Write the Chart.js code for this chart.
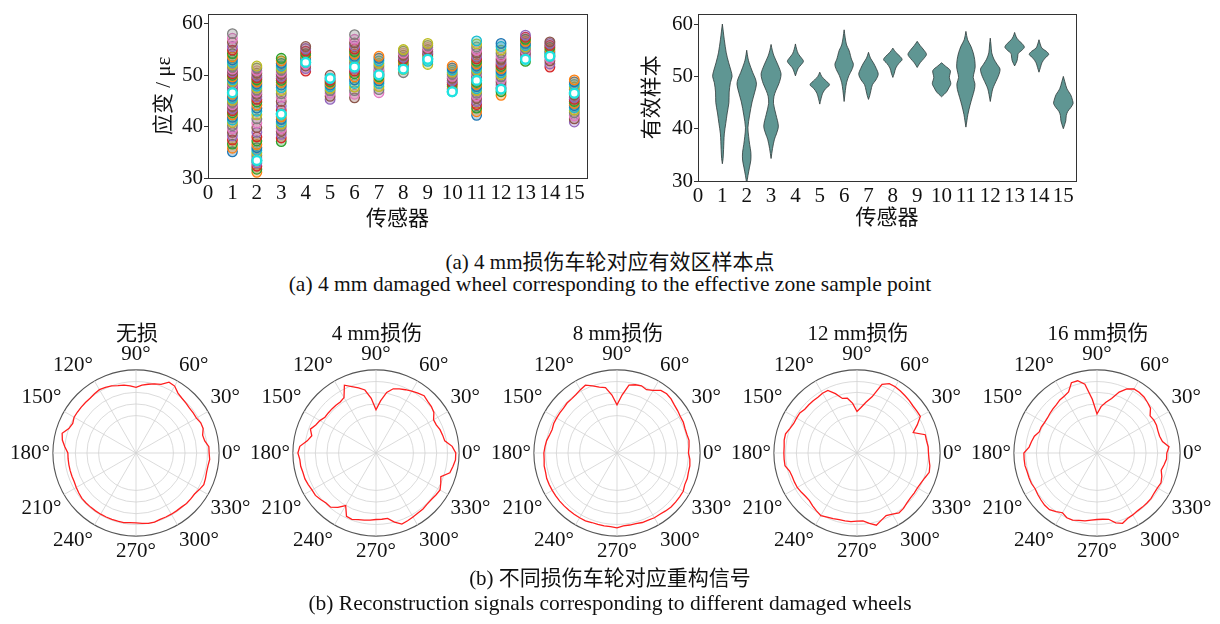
<!DOCTYPE html>
<html>
<head>
<meta charset="utf-8">
<script src="https://cdn.jsdelivr.net/npm/chart.js@4.4.1/dist/chart.umd.min.js"></script>
<style>
  body { margin: 0; background: #fff; }
  #page { position: relative; width: 1220px; height: 624px; overflow: hidden; background: #fff;
          font-family: 'Liberation Serif', 'Noto Sans CJK SC', serif; color: #111; }
  canvas { position: absolute; }
  .cap { position: absolute; left: 0; width: 1220px; text-align: center; font-size: 21px; line-height: 24px; white-space: nowrap; }
  .cap.en { font-size: 21.5px; }
  .ptitle { position: absolute; width: 200px; text-align: center; font-size: 21px; line-height: 24px; white-space: nowrap; }
</style>
</head>
<body>
<div id="page">
  <canvas id="strainChart" width="450" height="234" style="left:150px;top:0"></canvas>
  <canvas id="violinChart" width="460" height="233" style="left:630px;top:0"></canvas>
  <div class="cap" style="top:250px">(a) 4 mm损伤车轮对应有效区样本点</div>
  <div class="cap en" style="top:272px">(a) 4 mm damaged wheel corresponding to the effective zone sample point</div>

  <canvas id="polar0" width="252" height="240" style="left:4px;top:333px"></canvas>
  <canvas id="polar1" width="252" height="240" style="left:244px;top:333px"></canvas>
  <canvas id="polar2" width="252" height="240" style="left:485px;top:333px"></canvas>
  <canvas id="polar3" width="252" height="240" style="left:725px;top:333px"></canvas>
  <canvas id="polar4" width="252" height="240" style="left:965px;top:333px"></canvas>
  <div class="ptitle" style="left:37px;top:321px">无损</div>
  <div class="ptitle" style="left:277px;top:321px">4 mm损伤</div>
  <div class="ptitle" style="left:518px;top:321px">8 mm损伤</div>
  <div class="ptitle" style="left:758px;top:321px">12 mm损伤</div>
  <div class="ptitle" style="left:998px;top:321px">16 mm损伤</div>

  <div class="cap" style="top:566px">(b) 不同损伤车轮对应重构信号</div>
  <div class="cap en" style="top:591px">(b) Reconstruction signals corresponding to different damaged wheels</div>
</div>
<script>
// ---- (a) samples per sensor ----
const sensors = [1, 2, 3, 4, 5, 6, 7, 8, 9, 10, 11, 12, 13, 14, 15];
const xTickLabels = [0, 1, 2, 3, 4, 5, 6, 7, 8, 9, 10, 11, 12, 13, 14, 15];
const yTickLabels = [30, 40, 50, 60];

const samples1 = [35.1, 35.8, 36.6, 37.4, 38.2, 38.9, 39.6, 40.2, 40.8, 41.3, 41.8, 42.3, 42.7, 43.1, 43.5, 43.9, 44.3, 44.7, 45.1, 45.5, 45.9, 46.3, 46.7, 47.1, 47.5, 47.9, 48.2, 48.5, 48.8, 49.1, 49.4, 49.7, 50.0, 50.3, 50.6, 50.9, 51.2, 51.6, 52.0, 52.5, 53.0, 53.6, 54.2, 54.9, 55.6, 56.4, 57.2, 58.1];
const samples2 = [31.1, 31.7, 32.3, 32.9, 33.4, 33.9, 34.4, 34.9, 35.4, 35.9, 36.5, 37.2, 38.0, 38.9, 39.8, 40.7, 41.5, 42.3, 43.0, 43.6, 44.2, 44.8, 45.3, 45.8, 46.3, 46.7, 47.1, 47.5, 47.9, 48.3, 48.7, 49.1, 49.5, 49.9, 50.4, 50.9, 51.4, 51.8];
const samples3 = [37.1, 37.8, 38.5, 39.1, 39.6, 40.1, 40.5, 40.9, 41.4, 41.9, 42.5, 43.2, 44.0, 44.9, 45.7, 46.4, 47.0, 47.6, 48.1, 48.6, 49.0, 49.4, 49.8, 50.2, 50.6, 51.0, 51.4, 51.8, 52.3, 52.8, 53.3];
const samples4 = [50.8, 51.3, 51.8, 52.2, 52.5, 52.8, 53.1, 53.4, 53.8, 54.2, 54.7, 55.2, 55.6];
const samples5 = [45.3, 45.9, 46.5, 47.0, 47.4, 47.8, 48.1, 48.4, 48.7, 49.0, 49.4, 50.0];
const samples6 = [45.6, 46.3, 47.0, 47.7, 48.4, 49.1, 49.7, 50.3, 50.8, 51.3, 51.7, 52.1, 52.5, 52.9, 53.3, 53.7, 54.1, 54.6, 55.1, 55.7, 56.3, 57.0, 57.9];
const samples7 = [46.6, 47.2, 47.8, 48.4, 48.9, 49.3, 49.7, 50.1, 50.5, 50.9, 51.3, 51.8, 52.3, 52.8, 53.3, 53.7];
const samples8 = [50.5, 51.1, 51.6, 52.1, 52.5, 52.9, 53.2, 53.5, 53.9, 54.3, 54.7, 55.0];
const samples9 = [52.1, 52.7, 53.2, 53.6, 54.0, 54.3, 54.6, 55.0, 55.4, 55.8, 56.2];
const samples10 = [46.8, 47.3, 47.8, 48.2, 48.6, 49.0, 49.4, 49.8, 50.2, 50.6, 51.0, 51.4, 51.8];
const samples11 = [42.2, 42.9, 43.6, 44.3, 44.9, 45.5, 46.0, 46.5, 47.0, 47.4, 47.8, 48.2, 48.6, 49.0, 49.4, 49.8, 50.2, 50.6, 51.0, 51.4, 51.8, 52.2, 52.7, 53.2, 53.7, 54.3, 54.9, 55.5, 56.1, 56.7];
const samples12 = [46.1, 46.8, 47.5, 48.1, 48.7, 49.2, 49.7, 50.1, 50.5, 50.9, 51.3, 51.7, 52.1, 52.6, 53.1, 53.7, 54.3, 54.9, 55.6, 56.2];
const samples13 = [52.7, 53.3, 53.9, 54.4, 54.8, 55.2, 55.5, 55.8, 56.2, 56.6, 57.0, 57.4, 57.8];
const samples14 = [51.6, 52.2, 52.8, 53.3, 53.7, 54.0, 54.3, 54.6, 55.0, 55.4, 55.8, 56.2, 56.5];
const samples15 = [40.9, 41.5, 42.1, 42.7, 43.2, 43.7, 44.1, 44.5, 44.9, 45.3, 45.7, 46.2, 46.7, 47.2, 47.7, 48.2, 48.7, 49.1];
const strainSamples = [samples1, samples2, samples3, samples4, samples5, samples6, samples7, samples8,
  samples9, samples10, samples11, samples12, samples13, samples14, samples15];
const strainMeans = [46.6, 33.4, 42.4, 52.5, 49.4, 51.6, 50.1, 51.2, 53.1, 46.8, 49.0, 47.3, 53.1, 53.7, 46.5];

// violin outlines: [value, half width] from top to bottom
const violin1 = [[60, 0], [58.5, 0.04], [57, 0.08], [54.5, 0.16], [52.6, 0.26], [51, 0.36], [50, 0.4], [48.8, 0.33], [47, 0.28], [45, 0.27], [43, 0.2], [41, 0.14], [39, 0.08], [36, 0.05], [34.3, 0.03], [33.3, 0]];
const violin2 = [[55, 0], [53.5, 0.05], [52.6, 0.1], [50.7, 0.25], [49.5, 0.36], [48.5, 0.4], [47, 0.33], [45.1, 0.22], [42.6, 0.12], [40.2, 0.05], [38.5, 0.08], [37, 0.12], [35.5, 0.17], [34, 0.17], [32.5, 0.11], [31, 0.05], [29.5, 0]];
const violin3 = [[56.1, 0], [55, 0.05], [53.9, 0.12], [52, 0.3], [50.5, 0.41], [49.5, 0.38], [48.6, 0.32], [47.3, 0.2], [46.2, 0.12], [44.8, 0.1], [42.7, 0.2], [40.5, 0.3], [39, 0.22], [38, 0.14], [36.2, 0.06], [34.3, 0]];
const violin4 = [[56.2, 0], [55.2, 0.05], [54.3, 0.12], [53.5, 0.25], [52.9, 0.33], [52.3, 0.25], [51.6, 0.12], [50.8, 0.05], [50.1, 0]];
const violin5 = [[50.8, 0], [50, 0.08], [49.3, 0.22], [48.4, 0.4], [47.7, 0.25], [46.8, 0.12], [45.7, 0.05], [44.7, 0]];
const violin6 = [[58.9, 0], [57.5, 0.04], [56, 0.1], [55, 0.2], [54, 0.26], [53.3, 0.3], [52.3, 0.38], [51.3, 0.32], [50.2, 0.2], [48.8, 0.1], [47.3, 0.05], [45.2, 0]];
const violin7 = [[54.6, 0], [53.5, 0.08], [52.6, 0.2], [51.5, 0.32], [50.4, 0.4], [49.3, 0.3], [48.4, 0.16], [47.3, 0.1], [46.3, 0.05], [45.6, 0]];
const violin8 = [[55.4, 0], [54.6, 0.12], [53.8, 0.3], [53.2, 0.38], [52.5, 0.25], [51.6, 0.12], [50.6, 0.06], [49.8, 0]];
const violin9 = [[56.7, 0], [55.9, 0.12], [55, 0.28], [54.2, 0.38], [53.4, 0.27], [52.6, 0.12], [51.7, 0]];
const violin10 = [[52.6, 0], [52, 0.15], [51.1, 0.36], [49.8, 0.32], [48.6, 0.38], [47.8, 0.3], [47, 0.2], [46.1, 0]];
const violin11 = [[58.6, 0], [57, 0.07], [55.8, 0.2], [54.5, 0.3], [53.2, 0.36], [51.8, 0.38], [50.8, 0.34], [49.8, 0.3], [48.6, 0.37], [47.5, 0.35], [46, 0.26], [44.5, 0.17], [42.7, 0.08], [41.5, 0.04], [40.3, 0]];
const violin12 = [[57.3, 0], [56, 0.03], [54.5, 0.06], [53.3, 0.15], [52.3, 0.28], [51.4, 0.4], [50.4, 0.36], [49.5, 0.28], [48.5, 0.18], [47.6, 0.1], [46.5, 0.05], [45.2, 0]];
const violin13 = [[58.4, 0], [57.6, 0.06], [57, 0.14], [56.3, 0.3], [55.6, 0.4], [55, 0.3], [54.4, 0.15], [53.9, 0.13], [53, 0.1], [52, 0]];
const violin14 = [[57, 0], [56.2, 0.05], [55.4, 0.12], [54.8, 0.3], [54.2, 0.4], [53.5, 0.25], [52.6, 0.12], [51.7, 0.06], [50.8, 0]];
const violin15 = [[50, 0], [49, 0.06], [47.6, 0.15], [46.5, 0.3], [45.4, 0.38], [44.8, 0.4], [44, 0.3], [43.3, 0.18], [42.5, 0.12], [41.5, 0.1], [40, 0]];
const violins = [violin1, violin2, violin3, violin4, violin5, violin6, violin7, violin8,
  violin9, violin10, violin11, violin12, violin13, violin14, violin15];

// ---- (b) reconstructed signals, radius (outer ring = 1), angle counter-clockwise from 0° ----
const polarAngles = [0, 5, 10, 15, 20, 25, 30, 35, 40, 45, 50, 55, 60, 65, 70, 75, 80, 85, 90, 95, 100, 105, 110, 115,
  120, 125, 130, 135, 140, 145, 150, 155, 160, 165, 170, 175, 180, 185, 190, 195, 200, 205, 210, 215, 220, 225, 230, 235,
  240, 245, 250, 255, 260, 265, 270, 275, 280, 285, 290, 295, 300, 305, 310, 315, 320, 325, 330, 335, 340, 345, 350, 355];
const ringValues = [0, 0.45, 0.59, 0.73, 0.86, 1];

const signalIntact = [0.88, 0.88, 0.84, 0.83, 0.86, 0.86, 0.84, 0.84, 0.84, 0.85, 0.86, 0.88, 0.93, 0.94, 0.88, 0.86, 0.84, 0.82,
  0.79, 0.81, 0.83, 0.84, 0.86, 0.87, 0.88, 0.87, 0.86, 0.86, 0.86, 0.86, 0.86, 0.84, 0.86, 0.92, 0.9, 0.86,
  0.82, 0.82, 0.82, 0.82, 0.82, 0.82, 0.83, 0.84, 0.85, 0.85, 0.85, 0.85, 0.85, 0.85, 0.85, 0.85, 0.85, 0.84,
  0.84, 0.85, 0.86, 0.86, 0.85, 0.85, 0.85, 0.85, 0.85, 0.86, 0.86, 0.86, 0.88, 0.9, 0.89, 0.88, 0.88, 0.89];
const signal4mm = [0.96, 0.92, 0.84, 0.83, 0.82, 0.8, 0.8, 0.85, 0.87, 0.88, 0.9, 0.88, 0.86, 0.84, 0.82, 0.8, 0.74, 0.63,
  0.52, 0.66, 0.77, 0.81, 0.85, 0.9, 0.77, 0.75, 0.75, 0.75, 0.75, 0.75, 0.78, 0.8, 0.84, 0.8, 0.84, 0.92,
  0.94, 0.92, 0.92, 0.91, 0.91, 0.9, 0.89, 0.89, 0.87, 0.85, 0.85, 0.8, 0.73, 0.84, 0.85, 0.83, 0.82, 0.81,
  0.8, 0.8, 0.8, 0.86, 0.91, 0.9, 0.89, 0.88, 0.88, 0.87, 0.87, 0.88, 0.89, 0.86, 0.83, 0.92, 0.94, 0.96];
const signal8mm = [0.86, 0.87, 0.88, 0.87, 0.87, 0.88, 0.88, 0.89, 0.9, 0.92, 0.93, 0.92, 0.87, 0.84, 0.86, 0.85, 0.83, 0.7,
  0.58, 0.7, 0.8, 0.82, 0.86, 0.9, 0.88, 0.86, 0.85, 0.85, 0.84, 0.84, 0.84, 0.84, 0.83, 0.84, 0.86, 0.87,
  0.88, 0.88, 0.89, 0.89, 0.9, 0.9, 0.9, 0.9, 0.9, 0.9, 0.9, 0.9, 0.9, 0.9, 0.89, 0.89, 0.89, 0.89,
  0.9, 0.88, 0.88, 0.88, 0.89, 0.89, 0.9, 0.9, 0.91, 0.92, 0.92, 0.92, 0.92, 0.9, 0.9, 0.89, 0.89, 0.88];
const signal12mm = [0.86, 0.86, 0.85, 0.85, 0.72, 0.8, 0.88, 0.88, 0.88, 0.89, 0.9, 0.91, 0.92, 0.92, 0.88, 0.7, 0.62, 0.55,
  0.5, 0.6, 0.67, 0.68, 0.76, 0.83, 0.83, 0.82, 0.82, 0.82, 0.82, 0.84, 0.84, 0.84, 0.86, 0.89, 0.89, 0.88,
  0.88, 0.88, 0.88, 0.84, 0.83, 0.83, 0.83, 0.82, 0.81, 0.81, 0.83, 0.85, 0.87, 0.85, 0.84, 0.83, 0.83, 0.83,
  0.82, 0.82, 0.86, 0.9, 0.86, 0.83, 0.85, 0.88, 0.87, 0.85, 0.84, 0.84, 0.84, 0.85, 0.87, 0.9, 0.89, 0.87];
const signal16mm = [0.84, 0.87, 0.8, 0.78, 0.78, 0.79, 0.79, 0.78, 0.84, 0.86, 0.88, 0.89, 0.89, 0.85, 0.78, 0.68, 0.62, 0.56,
  0.47, 0.65, 0.84, 0.9, 0.9, 0.81, 0.79, 0.78, 0.76, 0.75, 0.74, 0.73, 0.73, 0.74, 0.74, 0.78, 0.8, 0.82,
  0.88, 0.88, 0.88, 0.87, 0.87, 0.87, 0.86, 0.87, 0.88, 0.89, 0.89, 0.86, 0.83, 0.86, 0.86, 0.84, 0.83, 0.81,
  0.8, 0.8, 0.81, 0.87, 0.9, 0.87, 0.86, 0.85, 0.85, 0.85, 0.85, 0.84, 0.84, 0.85, 0.83, 0.8, 0.82, 0.84];
const polarSignals = [signalIntact, signal4mm, signal8mm, signal12mm, signal16mm];

const tab10 = ['#1f77b4', '#ff7f0e', '#2ca02c', '#d62728', '#9467bd', '#8c564b', '#e377c2', '#7f7f7f', '#bcbd22', '#17becf'];
const serif = "'Liberation Serif', 'Noto Sans CJK SC', serif";

Chart.defaults.animation = false;
Chart.defaults.responsive = false;
Chart.defaults.color = '#111';
Chart.defaults.font.family = serif;
Chart.defaults.plugins.legend.display = false;
Chart.defaults.plugins.tooltip.enabled = false;

const frameBox = {
  id: 'frameBox',
  afterDraw(chart) {
    const { ctx, chartArea: a } = chart;
    ctx.save();
    ctx.strokeStyle = '#333';
    ctx.lineWidth = 1;
    ctx.strokeRect(Math.round(a.left) + 0.5, Math.round(a.top) + 0.5,
      Math.round(a.right - a.left), Math.round(a.bottom - a.top));
    ctx.restore();
  }
};

function topScales(yWidth, xHeight, yTitle) {
  return {
    x: {
      type: 'linear', min: 0, max: 15.52,
      afterBuildTicks: (s) => { s.ticks = xTickLabels.map(v => ({ value: v })); },
      afterFit: (s) => { s.height = xHeight; },
      ticks: { autoSkip: false, maxRotation: 0, padding: 3, font: { size: 21 }, color: '#111' },
      grid: { display: false, drawTicks: false },
      border: { display: false },
      title: { display: true, text: '传感器', font: { size: 21 }, padding: { top: 2, bottom: 2 }, color: '#111' }
    },
    y: {
      min: 30, max: 62,
      afterBuildTicks: (s) => { s.ticks = [30, 35, 40, 45, 50, 55, 60].map(v => ({ value: v })); },
      afterFit: (s) => { s.width = yWidth; },
      ticks: {
        padding: 1, font: { size: 21 }, color: '#111',
        callback: (v) => yTickLabels.includes(v) ? String(v) : ''
      },
      grid: { drawOnChartArea: false, drawTicks: true, tickLength: 4, tickColor: '#333', lineWidth: 1 },
      border: { display: false },
      title: { display: true, text: yTitle, font: { size: 21 }, padding: { top: 2, bottom: 2 }, color: '#111' }
    }
  };
}

// strip of samples
const samplePoints = [];
const sampleColors = [];
strainSamples.forEach((list, i) => {
  list.forEach((v, j) => {
    samplePoints.push({ x: sensors[i], y: v });
    sampleColors.push(tab10[(j + i) % 10]);
  });
});

new Chart(document.getElementById('strainChart'), {
  type: 'scatter',
  data: {
    datasets: [
      {
        data: samplePoints, order: 1,
        pointRadius: 4.8, pointBorderWidth: 1.3,
        pointBorderColor: sampleColors,
        pointBackgroundColor: sampleColors.map(c => c + '50')
      },
      {
        data: strainMeans.map((v, i) => ({ x: sensors[i], y: v })), order: 0,
        pointRadius: 4.4, pointBorderWidth: 2.4,
        pointBorderColor: '#1fe3e0', pointBackgroundColor: '#ffffff'
      }
    ]
  },
  options: {
    layout: { padding: { top: 8, right: 13, left: 0, bottom: 0 } },
    scales: topScales(58, 56, '应变 / με')
  },
  plugins: [frameBox]
});

// violins
new Chart(document.getElementById('violinChart'), {
  type: 'scatter',
  data: {
    datasets: violins.map((shape, i) => {
      const c = sensors[i];
      const right = shape.map(([y, w]) => ({ x: c + w, y: y }));
      const left = shape.slice().reverse().map(([y, w]) => ({ x: c - w, y: y }));
      return {
        data: right.concat(left),
        showLine: true, fill: 'shape', tension: 0.3,
        backgroundColor: '#5f9693', borderColor: '#2d3a3a', borderWidth: 0.8,
        pointRadius: 0, pointHitRadius: 0
      };
    })
  },
  options: {
    layout: { padding: { top: 10, right: 14, left: 8, bottom: 0 } },
    scales: topScales(60, 52, '有效样本')
  },
  plugins: [frameBox]
});

// polar signals
function polarChart(id, values) {
  const n = polarAngles.length;
  // radar runs clockwise from the right; reference angles run counter-clockwise
  const order = polarAngles.map((_, i) => (n - i) % n);
  new Chart(document.getElementById(id), {
    type: 'radar',
    data: {
      labels: order.map(k => polarAngles[k] % 30 === 0 ? polarAngles[k] + '°' : ''),
      datasets: [{
        data: order.map(k => values[k]),
        borderColor: '#ff1e1e', borderWidth: 1.3, pointRadius: 0, fill: false, tension: 0
      }]
    },
    options: {
      layout: { padding: 0 },
      scales: {
        r: {
          min: 0, max: 1, startAngle: 90,
          afterBuildTicks: (s) => { s.ticks = ringValues.map(v => ({ value: v })); },
          ticks: { display: false },
          grid: {
            circular: true,
            color: (c) => c.index === ringValues.length - 1 ? '#555' : '#d2d2d2',
            lineWidth: (c) => c.index === ringValues.length - 1 ? 1.1 : 0.8
          },
          angleLines: {
            color: '#d2d2d2',
            lineWidth: (c) => c.label ? 0.8 : 0
          },
          pointLabels: { font: { size: 21, family: serif }, color: '#111', padding: 3 }
        }
      }
    }
  });
}

polarSignals.forEach((vals, i) => polarChart('polar' + i, vals));
</script>
</body>
</html>
